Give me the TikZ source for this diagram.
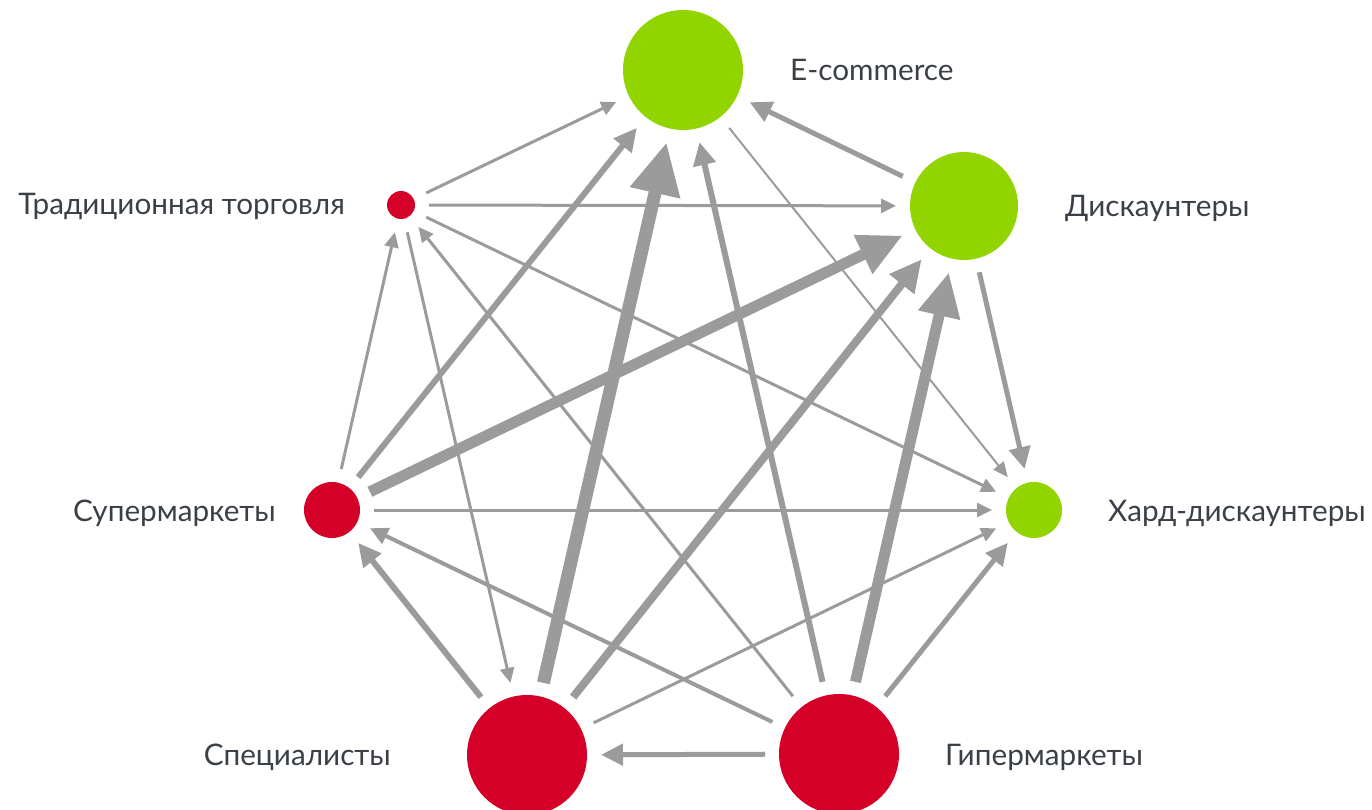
\documentclass[tikz,border=0pt]{standalone}
\usepackage{fontspec}
\setmainfont{Lato}
\usetikzlibrary{arrows.meta}
\definecolor{grn}{HTML}{92D400}
\definecolor{rd}{HTML}{D50028}
\definecolor{edgegray}{HTML}{9B9B9B}
\definecolor{txt}{HTML}{3A4046}
\begin{document}
\begin{tikzpicture}[x=1pt,y=-1pt,
  hub/.style={circle, inner sep=0pt, outer sep=14pt, minimum size=#1},
  gnode/.style={hub=#1, fill=grn},
  rnode/.style={hub=#1, fill=rd},
  lbl/.style={inner sep=0pt, text=txt, font=\fontsize{29.7}{34}\selectfont},
  ehair/.style={draw=edgegray, line width=2pt, -{Triangle[length=15pt,width=13pt]}},
  ethin/.style={draw=edgegray, line width=3pt, -{Triangle[length=15pt,width=14pt]}},
  elight/.style={draw=edgegray, line width=4pt, -{Triangle[length=18pt,width=17pt]}},
  emed/.style={draw=edgegray, line width=5pt, -{Triangle[length=22pt,width=21pt]}},
  emedp/.style={draw=edgegray, line width=6pt, -{Triangle[length=23pt,width=22pt]}},
  ewide/.style={draw=edgegray, line width=8pt, -{Triangle[length=32pt,width=30pt]}},
  eheavy/.style={draw=edgegray, line width=11pt, -{Triangle[length=44pt,width=40pt]}},
  emax/.style={draw=edgegray, line width=13pt, -{Triangle[length=52pt,width=48pt]}}
]
\useasboundingbox (0,0) rectangle (1372,810);
\clip (0,0) rectangle (1372,810);

% nodes
\node[gnode=120pt] (E) at (683,70) {};
\node[gnode=108pt] (D) at (964,206) {};
\node[gnode=56pt]  (H) at (1034,510) {};
\node[rnode=120pt] (G) at (839,754) {};
\node[rnode=120pt] (S) at (527,755) {};
\node[rnode=56pt]  (U) at (332,510) {};
\node[rnode=28pt]  (T) at (401,205) {};

% labels
\node[lbl, anchor=base west] (lE) at (790,81) {E-commerce};
\node[lbl, anchor=base west] (lD) at (1065,217) {Дискаунтеры};
\node[lbl, anchor=base west] (lH) at (1108,521) {Хард-дискаунтеры};
\node[lbl, anchor=base west] (lG) at (945,765) {Гипермаркеты};
\node[lbl, anchor=base east] (lS) at (391,765) {Специалисты};
\node[lbl, anchor=base east] (lU) at (276,521) {Супермаркеты};
\node[lbl, anchor=base east] (lT) at (345,215) {Традиционная торговля};

% edges
\draw[ethin] (T) -- (E);
\draw[ethin] (T) -- (D);
\draw[ethin] (T) -- (H);
\draw[ethin] (T) -- (S);
\draw[ethin] (U) -- (T);
\draw[ethin] (G) -- (T);
\draw[ehair] (E) -- (H);
\draw[emed] (D) -- (E);
\draw[emed] (D) -- (H);
\draw[emedp] (U) -- (E);
\draw[eheavy] (U) -- (D);
\draw[ethin] (U) -- (H);
\draw[emedp] (S) -- (U);
\draw[emax] (S) -- (E);
\draw[ewide] (S) -- (D);
\draw[ethin] (S) -- (H);
\draw[elight] (G) -- (U);
\draw[emed] (G) -- (S);
\draw[emedp] (G) -- (E);
\draw[eheavy] (G) -- (D);
\draw[emed] (G) -- (H);
\end{tikzpicture}
\end{document}
